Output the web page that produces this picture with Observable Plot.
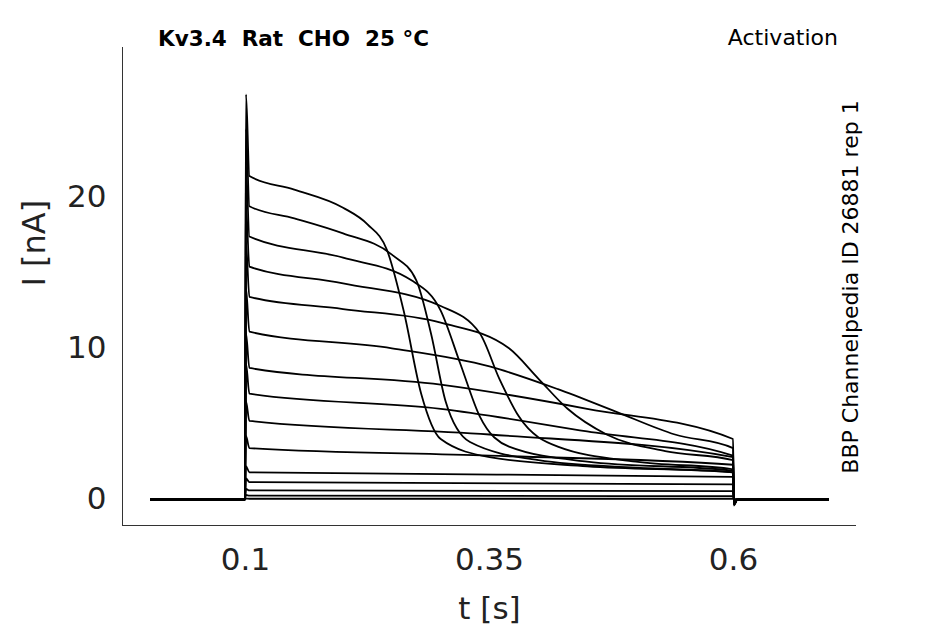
<!DOCTYPE html>
<html><head><meta charset="utf-8">
<script src="https://cdn.jsdelivr.net/npm/d3@7"></script>
<script src="https://cdn.jsdelivr.net/npm/@observablehq/plot@0.6"></script>
<style>
body{margin:0;background:#fff;font-family:"DejaVu Sans",sans-serif;}
#wrap{position:relative;width:945px;height:624px;}
.lab{position:absolute;white-space:nowrap;color:#000;}
</style></head><body>
<div id="wrap">
  <div class="lab" style="left:158px;top:26px;font-size:21.5px;font-weight:bold;">Kv3.4&nbsp;&nbsp;Rat&nbsp;&nbsp;CHO&nbsp;&nbsp;25 °C</div>
  <div class="lab" style="right:107px;top:25px;font-size:22px;">Activation</div>
  <div class="lab" style="left:850px;top:287px;font-size:22px;transform:translate(-50%,-50%) rotate(-90deg);">BBP Channelpedia ID 26881 rep 1</div>
</div>
<script>
// waypoints per trace during the step (t in s, I in nA)
const trace1 = [[0.104,21.4],[0.15,20.5],[0.2,19.3],[0.225,18.2],[0.245,16.5],[0.262,12.5],[0.28,7],[0.30,4.0],[0.35,2.8],[0.45,2.2],[0.5995,1.8]];
const trace2 = [[0.104,19.4],[0.15,18.6],[0.2,17.6],[0.25,16.2],[0.275,14.5],[0.29,11],[0.305,6.5],[0.33,3.8],[0.4,2.6],[0.5,2.1],[0.5995,1.8]];
const trace3 = [[0.104,17.4],[0.2,16.0],[0.27,14.5],[0.30,12.5],[0.32,9],[0.34,5.5],[0.37,3.5],[0.45,2.5],[0.5995,1.9]];
const trace4 = [[0.104,15.4],[0.2,14.3],[0.3,12.8],[0.34,11],[0.36,8],[0.38,5.5],[0.42,3.5],[0.5,2.5],[0.5995,2.0]];
const trace5 = [[0.104,13.4],[0.2,12.6],[0.3,11.7],[0.37,10],[0.40,8],[0.43,6],[0.47,4.3],[0.53,3.2],[0.5995,2.6]];
const trace6 = [[0.104,11.1],[0.25,10.0],[0.35,8.8],[0.42,7.3],[0.48,5.8],[0.54,4.3],[0.5995,3.4]];
const trace7 = [[0.104,8.7],[0.3,7.6],[0.45,6.0],[0.5995,4.0]];
const trace8 = [[0.104,7.0],[0.3,6.0],[0.45,4.5],[0.5995,2.9]];
const trace9 = [[0.104,5.2],[0.35,4.3],[0.5995,2.8]];
const trace10 = [[0.104,3.4],[0.35,2.9],[0.5995,2.3]];
const trace11 = [[0.104,1.8],[0.5995,1.5]];
const trace12 = [[0.104,1.15],[0.5995,1.0]];
const trace13 = [[0.104,0.6],[0.5995,0.55]];
const trace14 = [[0.104,0.25],[0.5995,0.22]];
const trace15 = [[0.104,0.05],[0.5995,0.05]];
const traces = [trace1,trace2,trace3,trace4,trace5,trace6,trace7,trace8,trace9,trace10,trace11,trace12,trace13,trace14,trace15];
const peaks = [26.8,24.5,22,19.5,17,14,11,9,6.5,4.2,2.2,1.4,0.7,0.3,0.06];
const tailDip = [-0.4,-0.35,-0.3,-0.3,-0.3,-0.3,-0.3,-0.2,-0.2,-0.15,-0.1,-0.05,0,0,0];
const xTicks = [0.1,0.35,0.6];
const yTicks = [0,10,20];

const rows = [];
traces.forEach((tr,i) => {
  const pts = [[0.003,0],[0.0995,0],[0.1005,peaks[i]],...tr,[0.6005,tailDip[i]],[0.604,0],[0.697,0]];
  pts.forEach(([t,I]) => rows.push({k:i,t,I}));
});

const chart = Plot.plot({
  width:945, height:624,
  marginLeft:122, marginRight:89, marginTop:47, marginBottom:99,
  style:{fontFamily:"DejaVu Sans", fontSize:"31px", color:"#222", background:"white"},
  x:{domain:[-0.026,0.726], ticks:xTicks, tickFormat:d=>String(d), label:null, tickSize:0, tickPadding:22},
  y:{domain:[-1.72,29.9], ticks:yTicks, label:null, tickSize:0, tickPadding:16},
  marks:[
    Plot.ruleX([-0.026],{y1:-1.72,y2:29.9,stroke:"#333"}),
    Plot.ruleY([-1.72],{x1:-0.026,x2:0.726,stroke:"#333"}),
    Plot.line(rows,{x:"t",y:"I",z:"k",stroke:"black",strokeWidth:1.8,curve:"monotone-x"}),
    Plot.text(["t [s]"],{frameAnchor:"bottom",dy:93,fontSize:31,text:d=>d}),
    Plot.text(["I [nA]"],{frameAnchor:"left",dx:-88,rotate:-90,fontSize:32,text:d=>d})
  ]
});
document.getElementById("wrap").prepend(chart);
chart.style.position="absolute";chart.style.left="0";chart.style.top="0";
</script>
</body></html>
